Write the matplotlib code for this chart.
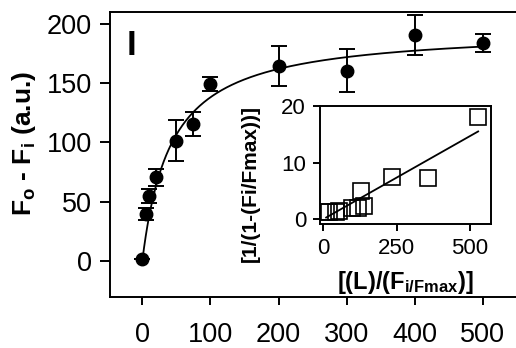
import numpy as np
import matplotlib
matplotlib.use("Agg")
import matplotlib.pyplot as plt

plt.rcParams['font.family'] = ['Liberation Sans', 'DejaVu Sans']
plt.rcParams['mathtext.fontset'] = 'custom'
plt.rcParams['mathtext.rm'] = 'Liberation Sans'
plt.rcParams['mathtext.bf'] = 'Liberation Sans:bold'
plt.rcParams['mathtext.it'] = 'Liberation Sans:italic'

# Titration data: ligand concentration vs fluorescence change
ligand = [0, 5, 10, 20, 50, 75, 100, 200, 300, 400, 500]
delta_f = [1.5, 39.5, 55, 70.5, 101.5, 115.5, 149, 164.5, 160.5, 190.5, 184]
delta_f_err = [0, 5, 6, 7, 17, 10, 6, 17, 18, 17, 7.5]

# One-site binding fit parameters
fit_bmax = 196.0
fit_kd = 42.0

# Linearised plot data (inset)
lin_x = [10, 20, 44, 55, 98, 119, 140, 128, 233, 356, 528]
lin_y = [1.3, 1.3, 1.4, 1.5, 2.0, 2.0, 2.3, 5.0, 7.5, 7.25, 18.0]
lin_slope = 0.0293
lin_intercept = 0.05

main_xticks = [0, 100, 200, 300, 400, 500]
main_yticks = [0, 50, 100, 150, 200]
inset_xticks = [0, 250, 500]
inset_yticks = [0, 10, 20]

W, H = 516, 348
fig = plt.figure(figsize=(W / 100, H / 100), dpi=100)

ax = fig.add_axes([0.2132, 0.1466, 0.802, 0.819])
ax.errorbar(ligand, delta_f, yerr=delta_f_err, fmt='o', color='black',
            markersize=9, elinewidth=1.4, capsize=5.5, capthick=1.4, zorder=3)
xs = np.linspace(0, max(ligand), 400)
ax.plot(xs, fit_bmax * xs / (fit_kd + xs), color='black', lw=1.3, zorder=2)

ax.set_xlim(-47.4, 560)
ax.set_ylim(-30.4, 210)
ax.set_xticks(main_xticks)
ax.set_yticks(main_yticks)
ax.tick_params(axis='both', direction='out', width=1.4, labelsize=19.5,
               color='black')
ax.tick_params(axis='y', length=7, pad=6)
ax.tick_params(axis='x', length=6, pad=12)
for s in ax.spines.values():
    s.set_linewidth(1.4)
ax.spines['right'].set_visible(False)

fig.text(24 / W, 1 - 143 / H, r'F$_\mathbf{o}$ - F$_\mathbf{i}$ (a.u.)',
         fontsize=19, fontweight='bold', rotation=90,
         ha='center', va='center')

ax.text(0.041, 0.94, 'I', transform=ax.transAxes, fontsize=25,
        fontweight='bold', va='top', ha='left')

# Inset: linearised binding plot
ins = fig.add_axes([0.620, 0.3563, 0.3308, 0.339])
ins.plot(lin_x, lin_y, 's', markersize=12, markerfacecolor='none',
         markeredgecolor='black', markeredgewidth=1.2, zorder=3)
lx = np.array([min(lin_x), max(lin_x)])
ins.plot(lx, lin_slope * lx + lin_intercept, color='black', lw=1.3, zorder=2)
ins.set_xlim(-11.2, 570.5)
ins.set_ylim(-0.8, 20)
ins.set_xticks(inset_xticks)
ins.set_yticks(inset_yticks)
ins.tick_params(axis='both', direction='out', width=1.4, length=5,
                labelsize=16, pad=5)
for s in ins.spines.values():
    s.set_linewidth(1.4)

fig.text(405 / W, 1 - 282 / H, r'[(L)/(F$_\mathbf{i/Fmax}$)]',
         fontsize=17, fontweight='bold', ha='center', va='center')
fig.text(250 / W, 1 - 183 / H, '[1/(1-(Fi/Fmax))]',
         fontsize=15, fontweight='bold', rotation=90,
         ha='center', va='center')

fig.savefig('out.png', dpi=100)
